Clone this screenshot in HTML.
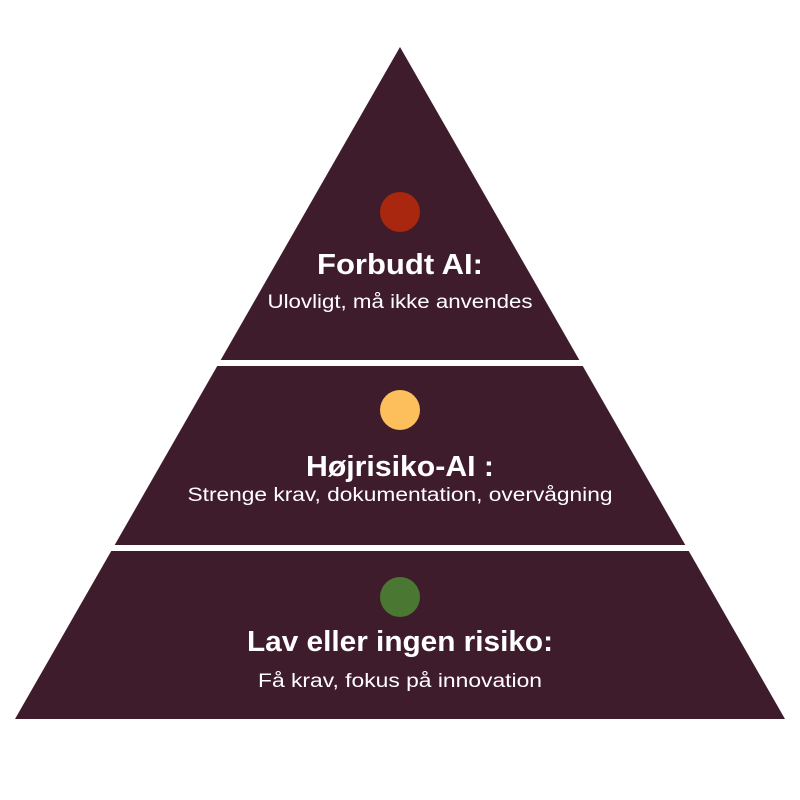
<!DOCTYPE html>
<html><head><meta charset="utf-8"><style>html,body{margin:0;padding:0;background:#fff}svg{display:block}</style></head>
<body>
<svg width="800" height="800" viewBox="0 0 800 800" xmlns="http://www.w3.org/2000/svg" font-family="Liberation Sans, sans-serif">
<polygon points="400,47 785,719 15,719" fill="#3f1c2c"/>
<rect x="0" y="360" width="800" height="6" fill="#fff"/>
<rect x="0" y="545" width="800" height="6" fill="#fff"/>
<circle cx="400" cy="212" r="20" fill="#a9260f"/>
<circle cx="400" cy="410" r="20" fill="#fcbf5b"/>
<circle cx="400" cy="597" r="20" fill="#4a7732"/>
<g fill="#fff" text-anchor="middle">
<text x="400" y="274" font-size="29" font-weight="bold" textLength="166" lengthAdjust="spacingAndGlyphs">Forbudt AI:</text>
<text x="400" y="308" font-size="19" textLength="265" lengthAdjust="spacingAndGlyphs">Ulovligt, må ikke anvendes</text>
<text x="400" y="476" font-size="29" font-weight="bold" textLength="188" lengthAdjust="spacingAndGlyphs">Højrisiko-AI :</text>
<text x="400" y="501" font-size="19" textLength="425" lengthAdjust="spacingAndGlyphs">Strenge krav, dokumentation, overvågning</text>
<text x="400" y="651" font-size="29" font-weight="bold" textLength="306" lengthAdjust="spacingAndGlyphs">Lav eller ingen risiko:</text>
<text x="400" y="687" font-size="19" textLength="284" lengthAdjust="spacingAndGlyphs">Få krav, fokus på innovation</text>
</g>
</svg>
</body></html>
